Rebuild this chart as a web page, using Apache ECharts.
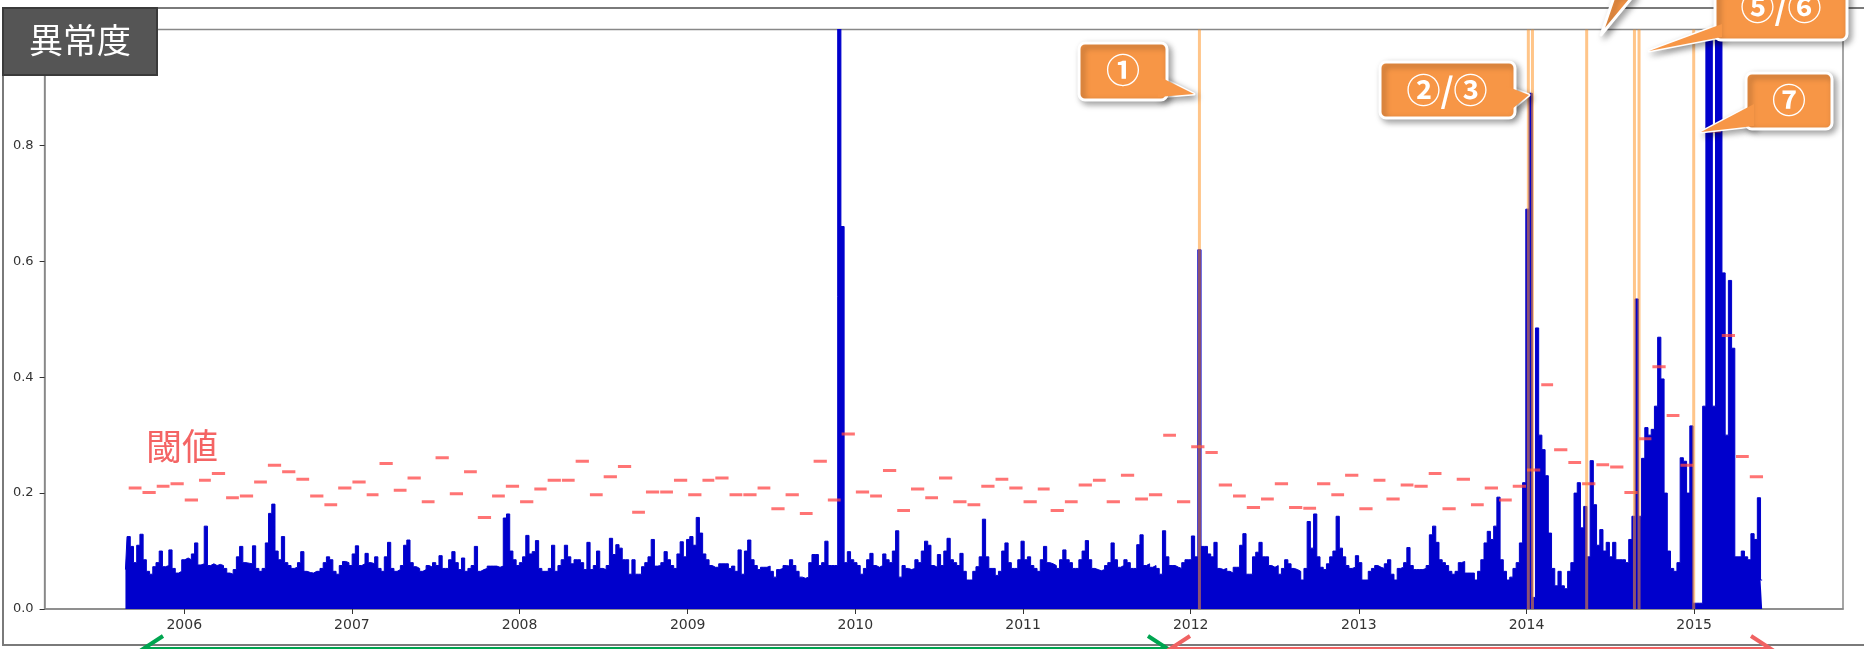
<!DOCTYPE html>
<html><head><meta charset="utf-8">
<script src="https://cdn.jsdelivr.net/npm/echarts@6/dist/echarts.min.js"></script>
<style>html,body{margin:0;padding:0;background:#fff}#c{width:1864px;height:649px}</style>
</head><body><div id="c"></div>
<script>
// ---------- DATA ----------
// weekly anomaly score (peak of each week), first week starts 2005-08-26, 7-day step
const scoreStart = '2005-08-26';
const scorePart1 = [0.068,0.125,0.108,0.08,0.11,0.129,0.085,0.065,0.06,0.073,
0.08,0.10,0.073,0.075,0.102,0.07,0.062,0.065,0.085,0.088,
0.085,0.095,0.114,0.076,0.078,0.143,0.075,0.078,0.075,0.077,
0.075,0.07,0.062,0.06,0.068,0.09,0.108,0.08,0.079,0.078,
0.109,0.07,0.065,0.07,0.114,0.165,0.181,0.1,0.085,0.125,0.08];
const scorePart2 = [0.075,0.07,0.072,0.08,0.099,0.065,0.063,0.062,0.065,
0.065,0.07,0.08,0.09,0.085,0.065,0.06,0.075,0.082,0.08,
0.075,0.095,0.109,0.075,0.078,0.096,0.08,0.078,0.09,0.07,
0.065,0.09,0.115,0.07,0.065,0.068,0.075,0.11,0.119,0.08,
0.073,0.07,0.065,0.068,0.075,0.072,0.08,0.075,0.092,0.07,0.07,0.085];
const scorePart3 = [0.099,0.08,0.068,0.088,0.065,0.07,0.075,0.108,
0.065,0.068,0.07,0.074,0.074,0.074,0.072,0.074,0.157,0.164,
0.1,0.085,0.075,0.08,0.09,0.127,0.095,0.099,0.118,0.07,
0.065,0.065,0.07,0.11,0.065,0.075,0.085,0.11,0.09,0.078,
0.085,0.085,0.08,0.068,0.115,0.068,0.075,0.1,0.07,0.068,0.075,0.122,0.094];
const scorePart4 = [0.111,0.105,0.085,0.085,0.06,0.085,0.06,
0.06,0.073,0.08,0.09,0.12,0.074,0.075,0.08,0.099,0.085,
0.075,0.07,0.095,0.116,0.09,0.12,0.125,0.11,0.158,0.131,
0.095,0.085,0.075,0.072,0.072,0.078,0.078,0.078,0.07,0.074,
0.065,0.102,0.06,0.1,0.119,0.085,0.075,0.068,0.072,0.072,0.074,0.065,0.055,0.068];
const scorePart5 = [0.07,0.075,0.074,0.085,0.075,0.065,
0.055,0.053,0.055,0.08,0.094,0.094,0.075,0.08,0.117,0.075,
0.075,0.075,1.3,0.66,0.08,0.099,0.085,0.08,0.075,0.06,
0.07,0.085,0.096,0.075,0.072,0.075,0.095,0.085,0.08,0.1,
0.135,0.055,0.075,0.07,0.068,0.07,0.085,0.08,0.1,0.117,0.11,0.075,0.072,0.094,0.075];
const scorePart6 = [0.1,0.122,0.085,0.08,0.075,
0.096,0.065,0.05,0.05,0.065,0.073,0.09,0.155,0.09,0.07,
0.07,0.058,0.065,0.1,0.114,0.08,0.07,0.07,0.085,0.117,
0.085,0.09,0.075,0.07,0.065,0.085,0.108,0.08,0.078,0.075,
0.07,0.085,0.102,0.085,0.08,0.07,0.07,0.085,0.1,0.118,0.085,0.07,0.068,0.066,0.068,0.075];
const scorePart7 = [0.08,0.114,0.085,0.072,
0.075,0.085,0.08,0.07,0.07,0.111,0.128,0.075,0.078,0.072,
0.075,0.07,0.06,0.135,0.09,0.075,0.075,0.072,0.07,0.08,
0.085,0.085,0.126,0.09,0.62,0.108,0.108,0.095,0.09,0.115,
0.07,0.068,0.07,0.065,0.062,0.072,0.072,0.11,0.13,0.06,0.06,0.09,0.098,0.115,0.09,0.09,0.075];
const scorePart8 = [0.072,0.075,0.06,
0.07,0.085,0.078,0.07,0.068,0.065,0.05,0.07,0.151,0.105,
0.164,0.09,0.072,0.068,0.078,0.09,0.1,0.16,0.105,0.09,
0.075,0.07,0.072,0.092,0.08,0.05,0.05,0.065,0.07,0.075,
0.072,0.07,0.078,0.085,0.06,0.05,0.07,0.072,0.08,0.106,0.075,0.068,0.068,0.068,0.07,0.075,0.128,0.143];
const scorePart9 = [0.115,0.085,
0.08,0.075,0.065,0.06,0.065,0.08,0.082,0.062,0.062,0.062,
0.05,0.065,0.085,0.114,0.134,0.12,0.143,0.193,0.085,0.065,
0.05,0.055,0.07,0.08,0.114,0.218,0.69,0.89,0.02,0.485,
0.3,0.275,0.23,0.131,0.07,0.04,0.065,0.04,0.035,0.065,0.08,0.2,0.218,0.14,0.177,0.09,0.256,0.18,0.11];
const scorePart10 = [0.137,
0.1,0.115,0.09,0.115,0.085,0.085,0.085,0.08,0.12,0.16,
0.535,0.16,0.26,0.313,0.3,0.31,0.35,0.469,0.397,0.2,
0.1,0.07,0.065,0.08,0.261,0.255,0.2,0.316,0.01,0.01,
0.01,0.35,1.2,1.2,0.35,1.2,1.2,0.58,0.3,0.567,
0.45,0.09,0.09,0.1,0.09,0.085,0.13,0.12,0.192,0.05];

// monthly threshold, first month 2005-09 (null = not visible in the picture)
const thresholdStart = [2005, 8];
const thr2005 = [0.209,0.201,0.212,0.216];
const thr2006 = [0.188,0.222,0.234,0.192,0.195,0.219,0.248,0.237,0.224,0.195,0.180,0.209];
const thr2007 = [0.219,0.197,0.251,0.205,0.226,0.185,0.261,0.199,0.237,0.158,0.195,0.212];
const thr2008 = [0.185,0.207,0.222,0.222,0.255,0.197,0.228,0.246,0.167,0.202,0.202,0.222];
const thr2009 = [0.197,0.222,0.226,0.197,0.197,0.209,0.173,0.197,0.165,0.255,0.188,0.302];
const thr2010 = [0.202,0.195,0.239,0.170,0.207,0.192,0.226,0.185,0.180,0.212,0.224,0.209];
const thr2011 = [0.185,0.207,0.170,0.185,0.214,0.222,0.185,0.231,0.190,0.197,0.300,0.185];
const thr2012 = [0.280,0.270,0.214,0.195,0.175,0.190,0.216,0.175,0.174,0.216,0.197,0.231];
const thr2013 = [0.173,0.222,0.190,0.214,0.212,0.234,0.173,0.224,0.180,0.209,0.188,0.212];
const thr2014 = [0.240,0.387,0.275,0.253,0.216,0.249,0.245,0.201,0.294,0.418,0.334,0.248];
const thr2015 = [null,0.825,0.472,0.263,0.228];

// event markers (orange vertical lines)
const eventDates = ['2012-01-20','2014-01-05','2014-01-14','2014-05-12','2014-08-24','2014-09-03','2014-12-31'];

// axis ticks
const xTickYears = [2006,2007,2008,2009,2010,2011,2012,2013,2014,2015];
const yTicks = [0,0.2,0.4,0.6,0.8];
const xRange = ['2005-03-03','2015-11-21'];
const yRange = [0, 1.0];

// ---------- BUILD ----------
const DAY = 86400000;
const t0 = Date.parse(scoreStart);
const scores = [].concat(scorePart1,scorePart2,scorePart3,scorePart4,scorePart5,scorePart6,scorePart7,scorePart8,scorePart9,scorePart10);
const blueData = scores.map((v,i)=>[t0 + i*7*DAY, v]);
const thresholds = [].concat(thr2005,thr2006,thr2007,thr2008,thr2009,thr2010,thr2011,thr2012,thr2013,thr2014,thr2015);
const thrData = [];
thresholds.forEach((v,m)=>{ if (v !== null) thrData.push([Date.UTC(thresholdStart[0], thresholdStart[1]+m, 1), Date.UTC(thresholdStart[0], thresholdStart[1]+m+1, 1), v]); });
const eventData = eventDates.map(d=>[Date.parse(d), 0]);
const yearSet = new Set(xTickYears);

const ORANGE = '#F79646';
const shadow = {shadowBlur:6, shadowColor:'rgba(0,0,0,0.35)', shadowOffsetX:3, shadowOffsetY:3};
function callout(rect, wedge, text, tx, ty){
  const els = [];
  if (wedge) els.push({type:'polygon', shape:{points:wedge}, style:Object.assign({fill:ORANGE, stroke:'#fff', lineWidth:3, lineJoin:'round'}, shadow), z:200});
  if (rect) els.push({type:'rect', shape:{x:rect[0],y:rect[1],width:rect[2],height:rect[3],r:6}, style:Object.assign({fill:ORANGE, stroke:'#fff', lineWidth:3}, shadow), z:201});
  if (wedge && rect) els.push({type:'polygon', shape:{points:wedge}, style:{fill:ORANGE}, z:202});
  if (text) els.push({type:'text', x:tx, y:ty, style:{text:text, fill:'#fff', font:'bold 34px "Noto Sans CJK JP"', align:'center', verticalAlign:'middle'}, z:203});
  return els;
}
function arrowLine(x1,x2,y,color){
  const d = x2 > x1 ? 1 : -1;
  return [
    {type:'line', shape:{x1:x1,y1:y,x2:x2,y2:y}, style:{stroke:color, lineWidth:4}, z:150},
    {type:'polyline', shape:{points:[[x1+20*d,y-13],[x1,y],[x1+20*d,y+13]]}, style:{stroke:color, lineWidth:4, fill:null}, z:150},
    {type:'polyline', shape:{points:[[x2-20*d,y-13],[x2,y],[x2-20*d,y+13]]}, style:{stroke:color, lineWidth:4, fill:null}, z:150}
  ];
}

const graphics = [].concat(
  [{type:'rect', shape:{x:3,y:8,width:1880,height:637}, style:{fill:null, stroke:'#7a7a7a', lineWidth:2}, z:100, silent:true}],
  [{type:'text', x:182, y:446, style:{text:'閾値', fill:'#F46464', font:'36px "Noto Sans CJK JP"', align:'center', verticalAlign:'middle'}, z:120}],
  arrowLine(143,1168,649,'#00A550'),
  arrowLine(1170,1771,649,'#F06262'),
  callout([1079,43,88,57], [[1158,76],[1158,97],[1194,94]], '①', 1123, 70),
  callout([1380,62,135,56], [[1506,86],[1506,114],[1529,95]], '②/③', 1447, 90),
  callout(null, [[1615,-6],[1635,-6],[1601,35]], null),
  callout([1715,-12,132,52], [[1722,24],[1722,37],[1649,51]], '⑤/⑥', 1781, 7),
  callout([1746,73,86,56], [[1754,104],[1754,126],[1701,132]], '⑦', 1789, 100),
  [{type:'rect', shape:{x:3,y:8,width:154,height:67}, style:{fill:'#555555', stroke:'#3a3a3a', lineWidth:2}, z:210},
   {type:'text', x:80, y:40, style:{text:'異常度', fill:'#fff', font:'34px "Noto Sans CJK JP"', align:'center', verticalAlign:'middle'}, z:211}]
);

const chart = echarts.init(document.getElementById('c'), null, {renderer:'canvas'});
chart.setOption({
  animation:false,
  useUTC:true,
  backgroundColor:'#fff',
  grid:{left:44.6, right:21, top:29.5, bottom:40, containLabel:false, outerBoundsMode:'none',
        show:true, borderColor:'#888', borderWidth:1.5, backgroundColor:'transparent'},
  xAxis:{
    type:'time', min:Date.parse(xRange[0]), max:Date.parse(xRange[1]),
    minInterval: 365*DAY, maxInterval: 366*DAY,
    splitLine:{show:false},
    axisLine:{show:true, lineStyle:{color:'#888', width:1.5}},
    axisTick:{show:true, length:5, lineStyle:{color:'#333'}},
    axisLabel:{color:'#333', fontFamily:'DejaVu Sans', fontSize:14, margin:9, hideOverlap:false,
      showMinLabel:false, showMaxLabel:false,
      formatter:(v)=>{ const d = new Date(v); return (d.getUTCMonth()===0 && d.getUTCDate()===1 && yearSet.has(d.getUTCFullYear())) ? String(d.getUTCFullYear()) : ''; }}
  },
  yAxis:{
    type:'value', min:yRange[0], max:yRange[1], interval:0.2,
    splitLine:{show:false},
    axisLine:{show:true, lineStyle:{color:'#888', width:1.5}},
    axisTick:{show:true, length:5, lineStyle:{color:'#333'}},
    axisLabel:{color:'#333', fontFamily:'DejaVu Sans', fontSize:13, margin:11,
      formatter:(v)=> yTicks.some(t=>Math.abs(t-v)<1e-9) ? v.toFixed(1) : ''}
  },
  series:[
    {type:'line', name:'score', data:blueData, step:'middle', showSymbol:false, symbol:'none',
     lineStyle:{color:'#0000CC', width:1}, areaStyle:{color:'#0000CC', opacity:1}, z:2, clip:true},
    {type:'custom', name:'threshold', data:thrData, encode:{x:[0,1], y:2}, z:3, clip:true,
     renderItem:function(params, api){
       const a = api.coord([api.value(0), api.value(2)]);
       const b = api.coord([api.value(1), api.value(2)]);
       return {type:'line', shape:{x1:a[0]+0.5, y1:a[1], x2:b[0]-0.5, y2:b[1]}, style:{stroke:'rgba(255,70,70,0.75)', lineWidth:3}};
     }},
    {type:'custom', name:'events', data:eventData, encode:{x:0, y:1}, z:4,
     renderItem:function(params, api){
       const a = api.coord([api.value(0), yRange[0]]);
       const b = api.coord([api.value(0), yRange[1]]);
       return {type:'line', shape:{x1:a[0], y1:a[1], x2:b[0], y2:b[1]}, style:{stroke:'rgba(255,150,40,0.55)', lineWidth:3}};
     }}
  ],
  graphic: graphics
});
</script>
</body></html>
